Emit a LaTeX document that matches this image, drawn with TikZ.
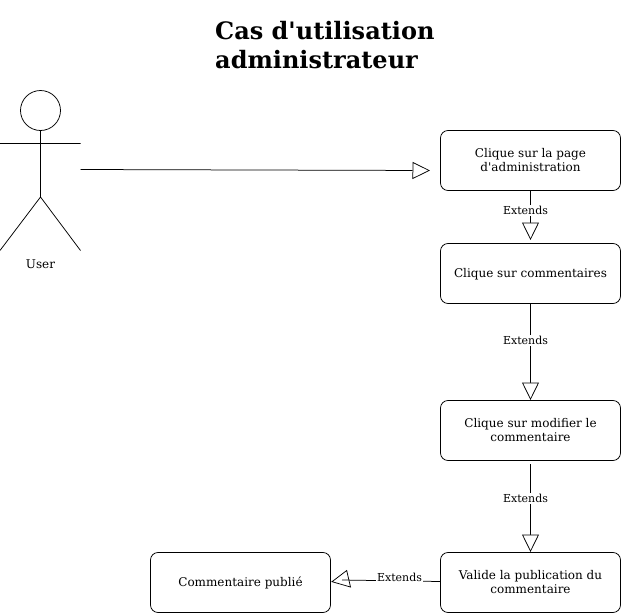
\documentclass[tikz,border=0pt]{standalone}
\usepackage{fontspec}
\setmainfont[Ligatures=TeXOff]{DejaVu Serif}
\usetikzlibrary{arrows.meta}
\newcommand{\lowertext}{\rule{0pt}{10pt}}
\tikzset{
 box/.style={draw,rounded corners=7.5pt,minimum width=180pt,minimum height=60pt,align=center,font=\fontsize{12}{14}\selectfont,inner sep=0pt,line width=0.75pt},
 lab/.style={fill=white,font=\fontsize{11}{13}\selectfont,inner sep=1pt},
 ext/.style={line width=0.75pt,-{Triangle[open,fill=white,length=17.5pt,width=17pt]}},
 thin line/.style={line width=0.75pt},
}
\begin{document}
\begin{tikzpicture}[x=1pt,y=-1pt]
\useasboundingbox (0,0) rectangle (621,613);
\node[anchor=north west,align=left,font=\bfseries\fontsize{24}{29}\selectfont,inner sep=0pt] (title) at (215,21.5) {Cas d'utilisation\\administrateur};
\draw[thin line] (40.5,110.5) circle (20);
\coordinate (neck) at (40.5,130.5);
\coordinate (hip) at (40.5,197);
\coordinate (armL) at (0,143.5);
\coordinate (armR) at (80.5,143.5);
\coordinate (footL) at (0,250.5);
\coordinate (footR) at (80.5,250.5);
\draw[thin line] (neck)--(hip) (armL)--(armR) (footL)--(hip)--(footR);
\node[font=\fontsize{12}{14}\selectfont,inner sep=0pt] (user) at (40.5,264.5) {User};
\node[box] (a) at (530.5,160.5) {Clique sur la page\\d'administration};
\node[box] (b) at (530.5,273.5) {\lowertext Clique sur commentaires};
\node[box] (c) at (530.5,430.5) {Clique sur modifier le\\commentaire};
\node[box] (d) at (530.5,582.5) {Valide la publication du\\commentaire};
\node[box] (e) at (240.5,582.5) {Commentaire publié};
\coordinate (us) at (80.5,169.5);
\coordinate (at) at (430,170.5);
\coordinate (aend) at (530.5,240);
\coordinate (bend) at (530.5,400);
\coordinate (cend) at (530.5,552);
\draw[ext] (us)--(at);
\draw[ext] (a)--(aend);
\node[lab] (l1) at (525.5,210.5) {Extends};
\draw[ext] (b)--(bend);
\node[lab] (l2) at (525.5,340.5) {Extends};
\coordinate (cb) at (530.5,464);
\draw[ext] (cb)--(cend);
\node[lab] (l3) at (525.5,498.5) {Extends};
\coordinate (dl) at (440,581.5);
\coordinate (hb) at (342,580);
\coordinate (tip) at (332,581.7);
\coordinate (hu) at (346.7,570.5);
\coordinate (hd) at (350.5,587);
\draw[thin line] (tip)--(hu)--(hd)--cycle;
\draw[thin line] (dl)--(hb);
\node[lab] (l4) at (399.5,577.5) {Extends};
\end{tikzpicture}
\end{document}
